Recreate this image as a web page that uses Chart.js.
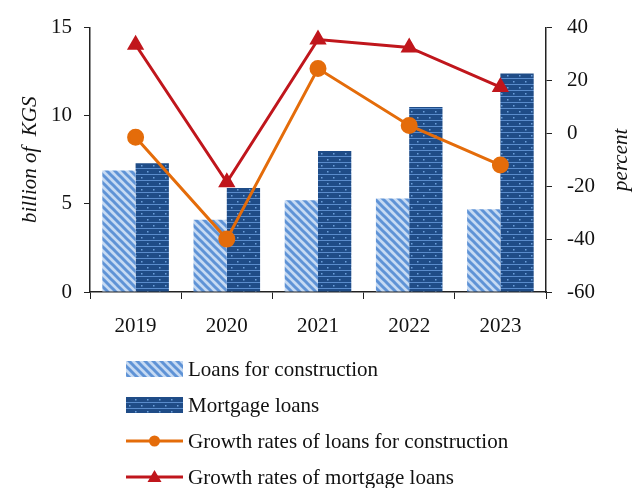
<!DOCTYPE html>
<html>
<head>
<meta charset="utf-8">
<script src="https://cdn.jsdelivr.net/npm/chart.js@4/dist/chart.umd.min.js"></script>
<style>
  html, body { margin: 0; padding: 0; background: #fff; }
  #loans { display: block; }
</style>
</head>
<body>
<canvas id="loans" width="640" height="488"></canvas>
<script>
// Loan volumes (billion KGS) and their annual growth (percent)
const years = ['2019', '2020', '2021', '2022', '2023'];
const constructionLoans = [6.9, 4.1, 5.2, 5.3, 4.7];
const mortgageLoans = [7.3, 5.9, 8.0, 10.5, 12.4];
const constructionGrowth = [-1.5, -40, 24.5, 3, -12];
const mortgageGrowth = [33.5, -18.5, 35.5, 32.5, 17.5];

const orange = '#e46c0a';
const red = '#c0161c';
const FONT = '"Liberation Serif", "Times New Roman", serif';

// Light blue diagonal hatch for construction loans
function stripePattern() {
    const c = document.createElement('canvas');
    c.width = 8; c.height = 8;
    const g = c.getContext('2d');
    g.fillStyle = '#c6daf3';
    g.fillRect(0, 0, 8, 8);
    g.strokeStyle = '#5f93d6';
    g.lineWidth = 3;
    for (let k = -8; k <= 8; k += 8) {
        g.beginPath();
        g.moveTo(k - 2, -2);
        g.lineTo(k + 10, 10);
        g.stroke();
    }
    return g.createPattern(c, 'repeat');
}

// Dark blue brick-like pattern with small dots for mortgage loans
function brickPattern() {
    const c = document.createElement('canvas');
    c.width = 12; c.height = 12;
    const g = c.getContext('2d');
    g.fillStyle = '#1f4c87';
    g.fillRect(0, 0, 12, 12);
    g.fillStyle = '#5a8ccc';
    g.fillRect(0, 0, 12, 1);
    g.fillRect(0, 6, 12, 1);
    g.fillStyle = '#6c9fdc';
    g.fillRect(3, 3, 1.5, 1.5);
    g.fillRect(9, 9, 1.5, 1.5);
    return g.createPattern(c, 'repeat');
}

const stripes = stripePattern();
const bricks = brickPattern();

// Legend drawn under the plot: swatches for bars, line+marker for growth rates,
// plus the right axis title which reads bottom-to-top like the left one
const stackedLegend = {
    id: 'stackedLegend',
    afterDraw(chart) {
        const ctx = chart.ctx;
        const items = [
            { label: 'Loans for construction', kind: 'bar', fill: stripes },
            { label: 'Mortgage loans', kind: 'bar', fill: bricks },
            { label: 'Growth rates of loans for construction', kind: 'line', color: orange, marker: 'circle' },
            { label: 'Growth rates of mortgage loans', kind: 'line', color: red, marker: 'triangle' }
        ];
        const x0 = 126, x1 = 183, top = 369, gap = 36;
        ctx.save();
        ctx.font = '21px ' + FONT;
        ctx.textBaseline = 'middle';
        items.forEach((it, i) => {
            const y = top + i * gap;
            if (it.kind === 'bar') {
                ctx.fillStyle = it.fill;
                ctx.fillRect(x0, y - 8, x1 - x0, 16);
            } else {
                ctx.strokeStyle = it.color;
                ctx.lineWidth = 3;
                ctx.beginPath();
                ctx.moveTo(x0, y);
                ctx.lineTo(x1, y);
                ctx.stroke();
                ctx.fillStyle = it.color;
                const cx = (x0 + x1) / 2;
                ctx.beginPath();
                if (it.marker === 'circle') {
                    ctx.arc(cx, y, 5.5, 0, Math.PI * 2);
                } else {
                    ctx.moveTo(cx, y - 7);
                    ctx.lineTo(cx + 7, y + 5);
                    ctx.lineTo(cx - 7, y + 5);
                    ctx.closePath();
                }
                ctx.fill();
            }
            ctx.fillStyle = '#111';
            ctx.fillText(it.label, 188, y + 1);
        });

        const area = chart.chartArea;
        ctx.translate(621, (area.top + area.bottom) / 2);
        ctx.rotate(-Math.PI / 2);
        ctx.font = 'italic 21px ' + FONT;
        ctx.textAlign = 'center';
        ctx.fillText('percent', 0, 0);
        ctx.restore();
    }
};

const tickFont = { family: FONT, size: 21 };

new Chart(document.getElementById('loans'), {
    type: 'bar',
    data: {
        labels: years,
        datasets: [
            {
                type: 'line',
                label: 'Growth rates of mortgage loans',
                data: mortgageGrowth,
                yAxisID: 'y1',
                borderColor: red,
                backgroundColor: red,
                borderWidth: 3,
                pointStyle: 'triangle',
                pointRadius: 7,
                tension: 0,
                order: 0
            },
            {
                type: 'line',
                label: 'Growth rates of loans for construction',
                data: constructionGrowth,
                yAxisID: 'y1',
                borderColor: orange,
                backgroundColor: orange,
                borderWidth: 3,
                pointStyle: 'circle',
                pointRadius: 7,
                tension: 0,
                order: 1
            },
            {
                label: 'Loans for construction',
                data: constructionLoans,
                yAxisID: 'y',
                backgroundColor: stripes,
                order: 2
            },
            {
                label: 'Mortgage loans',
                data: mortgageLoans,
                yAxisID: 'y',
                backgroundColor: bricks,
                order: 2
            }
        ]
    },
    options: {
        responsive: false,
        animation: false,
        layout: { padding: { top: 27, left: 0, right: 0, bottom: 0 } },
        datasets: { bar: { categoryPercentage: 0.73, barPercentage: 1 } },
        plugins: {
            legend: { display: false },
            tooltip: { enabled: false }
        },
        scales: {
            x: {
                offset: true,
                grid: { offset: true, drawOnChartArea: false, color: '#222', tickLength: 7 },
                border: { color: '#222', width: 1.5 },
                ticks: { font: tickFont, color: '#111', padding: 15 },
                afterFit(scale) { scale.height = 196; }
            },
            y: {
                position: 'left',
                min: 0, max: 15,
                ticks: { stepSize: 5, font: tickFont, color: '#111', padding: 12 },
                grid: { drawOnChartArea: false, color: '#222', tickLength: 6 },
                border: { color: '#222', width: 1.5 },
                title: {
                    display: true,
                    text: 'billion of  KGS',
                    font: { family: FONT, size: 21, style: 'italic' },
                    color: '#111',
                    padding: { top: 18, bottom: 0 }
                },
                afterFit(scale) { scale.width = 90; }
            },
            y1: {
                position: 'right',
                min: -60, max: 40,
                ticks: { stepSize: 20, font: tickFont, color: '#111', padding: 15 },
                grid: { drawOnChartArea: false, color: '#222', tickLength: 6 },
                border: { color: '#222', width: 1.5 },
                afterFit(scale) { scale.width = 94; }
            }
        }
    },
    plugins: [stackedLegend]
});
</script>
</body>
</html>
